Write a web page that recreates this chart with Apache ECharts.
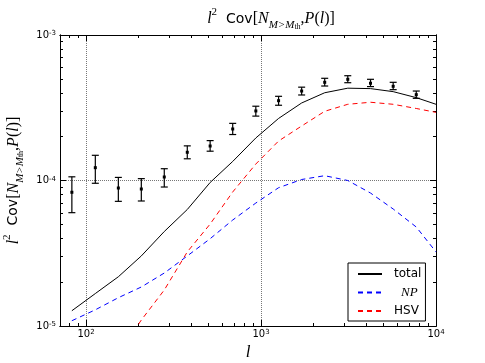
<!DOCTYPE html>
<html>
<head>
<meta charset="utf-8">
<script src="https://cdn.jsdelivr.net/npm/echarts@6/dist/echarts.min.js"></script>
<style>
  html, body { margin: 0; padding: 0; background: #fff; }
  #main { width: 485px; height: 363px; }
</style>
</head>
<body>
<div id="main"></div>
<script>
// multipoles of the measured bins (also where the model curves are sampled)
const ells = [83, 113, 153, 207, 280, 379, 512, 689, 934, 1260, 1707, 2312, 3132, 4225, 5692, 7713]
// measured l^2 Cov with error bars
const measured = [8.30e-5, 1.225e-4, 8.88e-5, 8.74e-5, 1.057e-4, 1.563e-4, 1.726e-4, 2.26e-4, 3.006e-4, 3.536e-4, 4.12e-4, 4.73e-4, 4.96e-4, 4.66e-4, 4.44e-4, 3.89e-4]
const errLow = [6.01e-5, 9.57e-5, 7.19e-5, 7.23e-5, 9.02e-5, 1.41e-4, 1.59e-4, 2.07e-4, 2.77e-4, 3.29e-4, 3.87e-4, 4.46e-4, 4.70e-4, 4.42e-4, 4.21e-4, 3.67e-4]
const errHigh = [1.06e-4, 1.49e-4, 1.05e-4, 1.03e-4, 1.205e-4, 1.73e-4, 1.88e-4, 2.47e-4, 3.24e-4, 3.79e-4, 4.38e-4, 5.04e-4, 5.25e-4, 4.96e-4, 4.73e-4, 4.12e-4]
// model curves
const curveEll = [83, 113, 153, 207, 280, 379, 512, 689, 934, 1260, 1707, 2312, 3132, 4225, 5692, 7713, 10000]
const totalCov = [1.273e-5, 1.671e-5, 2.18e-5, 3.03e-5, 4.46e-5, 6.32e-5, 9.69e-5, 1.352e-4, 1.96e-4, 2.67e-4, 3.41e-4, 4.01e-4, 4.31e-4, 4.28e-4, 4.08e-4, 3.71e-4, 3.34e-4]
const npCov = [1.087e-5, 1.292e-5, 1.565e-5, 1.854e-5, 2.312e-5, 3.03e-5, 3.98e-5, 5.35e-5, 7.00e-5, 8.92e-5, 1.016e-4, 1.079e-4, 1.0e-4, 8.20e-5, 6.37e-5, 4.79e-5, 3.23e-5]
const hsvCov = [1.9e-6, 3.8e-6, 6.4e-6, 1.099e-5, 1.768e-5, 3.23e-5, 5.02e-5, 8.34e-5, 1.298e-4, 1.868e-4, 2.369e-4, 2.99e-4, 3.34e-4, 3.45e-4, 3.34e-4, 3.126e-4, 2.94e-4]
// axis ticks (decades)
const xMajor = [2, 3, 4]
const yMajor = [-5, -4, -3]

const lg = Math.log10
const xMinor = []
const yMinor = []
for (let k = 2; k <= 9; k++) {
  xMinor.push(lg(k * 10), lg(k * 100), lg(k * 1000))
  yMinor.push(lg(k * 1e-5), lg(k * 1e-4))
}

const chart = echarts.init(document.getElementById('main'))

const serif = 'Liberation Serif'
const sans = 'DejaVu Sans'
// mathtext-like rich styles for  l^2 Cov[N_{M>M_th}, P(l)]
// line height is 24: base text in the middle, sup on top, sub at the bottom
const base = { fontWeight: 'normal', color: '#000', lineHeight: 24, verticalAlign: 'middle' }
const mathRich = {
  i: Object.assign({ fontFamily: serif, fontStyle: 'italic', fontSize: 16 }, base),
  r: Object.assign({ fontFamily: serif, fontSize: 16 }, base),
  c: Object.assign({ fontFamily: sans, fontSize: 14 }, base),
  sup: { fontFamily: serif, fontWeight: 'normal', fontSize: 11, lineHeight: 14, verticalAlign: 'top', color: '#000' },
  sub: { fontFamily: serif, fontStyle: 'italic', fontWeight: 'normal', fontSize: 11, lineHeight: 13, verticalAlign: 'bottom', color: '#000' },
  subsub: { fontFamily: serif, fontWeight: 'normal', fontSize: 8, lineHeight: 9, verticalAlign: 'bottom', color: '#000' }
}
const mathText = '{i|l}{sup|2}{c|  Cov}{r|[}{i|N}{sub|M>M}{subsub|th}{r|,}{i|P}{r|(}{i|l}{r|)]}'

const tickRich = {
  b: { fontFamily: sans, fontSize: 10, lineHeight: 10, padding: [4, 0, 0, 0], verticalAlign: 'bottom', color: '#000' },
  s: { fontFamily: sans, fontSize: 7, lineHeight: 7, verticalAlign: 'top', color: '#000' }
}
const powLabel = v => '{b|10}{s|' + Math.round(v) + '}'

const frameLine = { show: true, lineStyle: { color: '#000', width: 1 } }

function makeX (position, values, len, withLabel, grid) {
  return {
    type: 'value',
    position: position,
    min: lg(71),
    max: 4,
    axisLine: frameLine,
    axisTick: { show: true, inside: true, length: len, customValues: values, lineStyle: { color: '#000' } },
    axisLabel: withLabel
      ? { show: true, customValues: values, margin: 3, formatter: powLabel, rich: tickRich }
      : { show: false },
    splitLine: grid
      ? { show: true, lineStyle: { color: '#777', type: 'dotted', width: 1 } }
      : { show: false }
  }
}
function makeY (position, values, len, withLabel, grid) {
  return {
    type: 'value',
    position: position,
    min: -5,
    max: -3,
    axisLine: frameLine,
    axisTick: { show: true, inside: true, length: len, customValues: values, lineStyle: { color: '#000' } },
    axisLabel: withLabel
      ? { show: true, customValues: values, margin: 4, formatter: powLabel, rich: tickRich }
      : { show: false },
    splitLine: grid
      ? { show: true, lineStyle: { color: '#777', type: 'dotted', width: 1 } }
      : { show: false }
  }
}

const xMain = makeX('bottom', xMajor, 6, true, true)
xMain.name = 'l'
xMain.nameLocation = 'middle'
xMain.nameGap = 16
xMain.nameTextStyle = { fontFamily: serif, fontStyle: 'italic', fontSize: 17, color: '#000' }

const yMain = makeY('left', yMajor, 6, true, true)
yMain.name = mathText
yMain.nameLocation = 'middle'
yMain.nameRotate = 90
yMain.nameGap = 23
yMain.nameTextStyle = { rich: mathRich }

const pairs = (xs, ys) => xs.map((x, i) => [lg(x), lg(ys[i])])
const errData = ells.map((x, i) => [lg(x), lg(measured[i]), lg(errLow[i]), lg(errHigh[i])])

const option = {
  animation: false,
  backgroundColor: '#fff',
  title: {
    text: mathText,
    left: 266,
    top: 2,
    textAlign: 'center',
    textStyle: { fontWeight: 'normal', rich: mathRich }
  },
  grid: { left: 60, right: 49, top: 35, bottom: 37, containLabel: false, outerBoundsMode: 'none' },
  xAxis: [
    xMain,
    makeX('bottom', xMinor, 3, false, false),
    makeX('top', xMajor, 6, false, false),
    makeX('top', xMinor, 3, false, false)
  ],
  yAxis: [
    yMain,
    makeY('left', yMinor, 3, false, false),
    makeY('right', yMajor, 6, false, false),
    makeY('right', yMinor, 3, false, false)
  ],
  legend: {
    left: 348,
    top: 263,
    orient: 'vertical',
    backgroundColor: '#fff',
    borderColor: '#000',
    borderWidth: 1,
    borderRadius: 0,
    padding: [5, 4, 4, 9],
    itemGap: 6,
    itemWidth: 24,
    itemHeight: 12,
    itemStyle: { opacity: 0 },
    data: ['total', 'NP', 'HSV'],
    formatter: name => name === 'NP' ? '{i|NP}' : name,
    textStyle: {
      fontFamily: sans,
      fontSize: 12,
      color: '#000',
      padding: [0, 0, 0, 7],
      rich: { i: { fontFamily: serif, fontStyle: 'italic', fontSize: 13, color: '#000', padding: [0, 0, 0, 7] } }
    }
  },
  series: [
    {
      name: 'total',
      type: 'line',
      data: pairs(curveEll, totalCov),
      symbol: 'none',
      lineStyle: { color: '#000', width: 1 },
      itemStyle: { color: '#000' },
      z: 3
    },
    {
      name: 'NP',
      type: 'line',
      data: pairs(curveEll, npCov),
      symbol: 'none',
      lineStyle: { color: '#0000ff', width: 1, type: [5, 4] },
      itemStyle: { color: '#0000ff' },
      z: 3
    },
    {
      name: 'HSV',
      type: 'line',
      data: pairs(curveEll, hsvCov),
      symbol: 'none',
      lineStyle: { color: '#ff0000', width: 1, type: [5, 4] },
      itemStyle: { color: '#ff0000' },
      z: 3
    },
    {
      name: 'data',
      type: 'custom',
      data: errData,
      z: 4,
      renderItem (params, api) {
        const x = api.value(0)
        const c = api.coord([x, api.value(1)])
        const lo = api.coord([x, api.value(2)])
        const hi = api.coord([x, api.value(3)])
        const st = { stroke: '#000', lineWidth: 1.2 }
        return {
          type: 'group',
          children: [
            { type: 'line', shape: { x1: c[0], y1: lo[1], x2: c[0], y2: hi[1] }, style: st },
            { type: 'line', shape: { x1: c[0] - 3.5, y1: lo[1], x2: c[0] + 3.5, y2: lo[1] }, style: st },
            { type: 'line', shape: { x1: c[0] - 3.5, y1: hi[1], x2: c[0] + 3.5, y2: hi[1] }, style: st },
            { type: 'rect', shape: { x: c[0] - 1.5, y: c[1] - 1.5, width: 3, height: 3 }, style: { fill: '#000' } }
          ]
        }
      }
    }
  ]
}
chart.setOption(option)
</script>
</body>
</html>
